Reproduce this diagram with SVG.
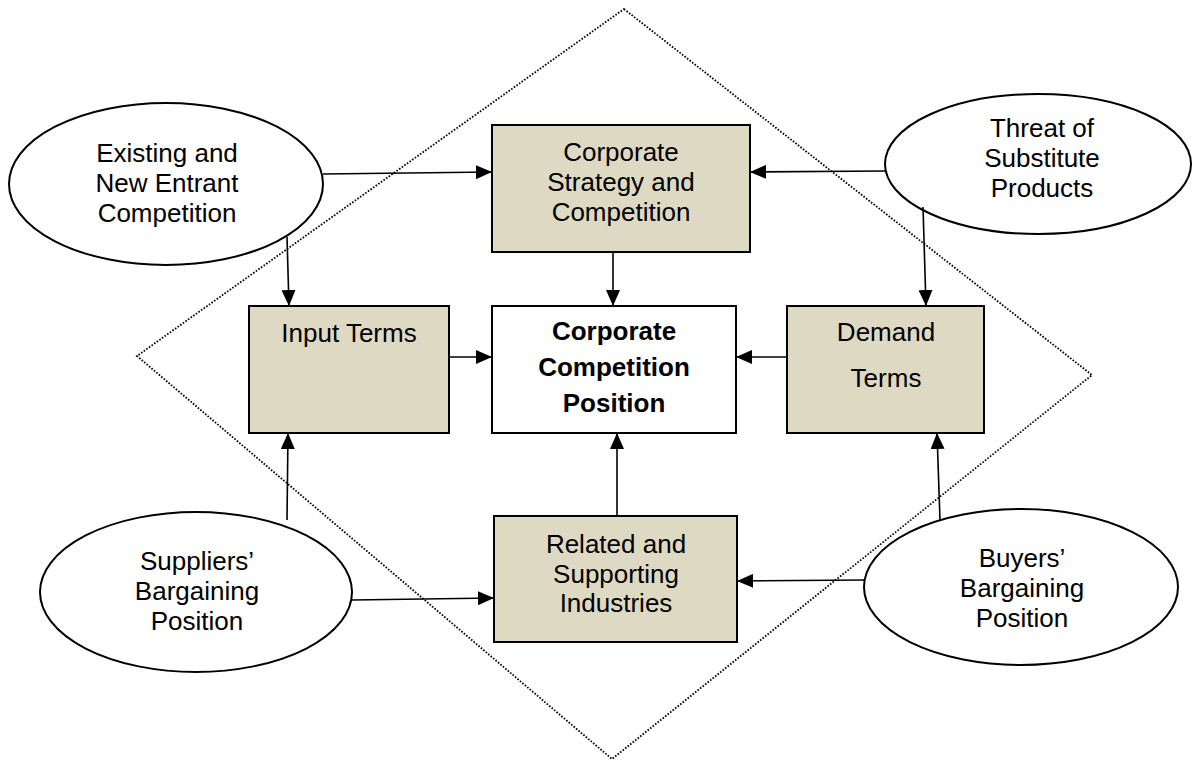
<svg xmlns="http://www.w3.org/2000/svg" width="1192" height="760" viewBox="0 0 1192 760">
  <defs>
    <marker id="arrow" markerUnits="userSpaceOnUse" markerWidth="16" markerHeight="14" refX="16" refY="7" orient="auto">
      <path d="M0,0 L16,7 L0,14 Z" fill="#000"/>
    </marker>
    <style>
      .frame { fill: none; stroke: #000; stroke-width: 1.8; stroke-dasharray: 1.6 1.6; }
      .oval { fill: #fff; stroke: #000; stroke-width: 2; }
      .box { fill: #DDD9C3; stroke: #000; stroke-width: 2; }
      .core { fill: #fff; stroke: #000; stroke-width: 2; }
      .link { fill: none; stroke: #000; stroke-width: 1.6; marker-end: url(#arrow); }
      text { font-family: "Liberation Sans", Arial, sans-serif; font-size: 26px; fill: #000; text-anchor: middle; }
      .bold { font-weight: bold; }
    </style>
  </defs>
  <rect width="1192" height="760" fill="#fff"/>

  <!-- dotted diamond enclosing the core factors -->
  <polygon class="frame" points="624,9 1092,375 612,759 137,356"/>

  <!-- outer forces -->
  <g id="existing-competition">
    <ellipse class="oval" cx="166" cy="184" rx="157" ry="81"/>
    <text x="167" y="162">Existing and</text>
    <text x="167" y="192">New Entrant</text>
    <text x="167" y="222">Competition</text>
  </g>
  <g id="substitutes">
    <ellipse class="oval" cx="1038" cy="164" rx="153" ry="70"/>
    <text x="1042" y="137">Threat of</text>
    <text x="1042" y="167">Substitute</text>
    <text x="1042" y="197">Products</text>
  </g>
  <g id="suppliers">
    <ellipse class="oval" cx="196" cy="592" rx="156" ry="80"/>
    <text x="197" y="570">Suppliers’</text>
    <text x="197" y="600">Bargaining</text>
    <text x="197" y="630">Position</text>
  </g>
  <g id="buyers">
    <ellipse class="oval" cx="1021" cy="587" rx="157" ry="78"/>
    <text x="1022" y="567">Buyers’</text>
    <text x="1022" y="597">Bargaining</text>
    <text x="1022" y="627">Position</text>
  </g>

  <!-- inner factors -->
  <g id="strategy">
    <rect class="box" x="492" y="125" width="258" height="127"/>
    <text x="621" y="161">Corporate</text>
    <text x="621" y="191">Strategy and</text>
    <text x="621" y="221">Competition</text>
  </g>
  <g id="input-terms">
    <rect class="box" x="249" y="306" width="200" height="127"/>
    <text x="349" y="342">Input Terms</text>
  </g>
  <g id="position">
    <rect class="core" x="492" y="306" width="244" height="127"/>
    <text class="bold" x="614" y="340">Corporate</text>
    <text class="bold" x="614" y="376">Competition</text>
    <text class="bold" x="614" y="412">Position</text>
  </g>
  <g id="demand-terms">
    <rect class="box" x="787" y="306" width="197" height="127"/>
    <text x="886" y="341">Demand</text>
    <text x="886" y="387">Terms</text>
  </g>
  <g id="related-industries">
    <rect class="box" x="494" y="516" width="243" height="126"/>
    <text x="616" y="553">Related and</text>
    <text x="616" y="583">Supporting</text>
    <text x="616" y="612">Industries</text>
  </g>

  <!-- connectors -->
  <g id="connectors">
    <line class="link" x1="323" y1="174" x2="492" y2="172"/>
    <line class="link" x1="885" y1="171" x2="750" y2="172"/>
    <line class="link" x1="287" y1="237" x2="289" y2="306"/>
    <line class="link" x1="923" y1="207" x2="926" y2="306"/>
    <line class="link" x1="613" y1="252" x2="613" y2="306"/>
    <line class="link" x1="449" y1="357" x2="492" y2="357"/>
    <line class="link" x1="787" y1="357" x2="736" y2="357"/>
    <line class="link" x1="617" y1="516" x2="617" y2="433"/>
    <line class="link" x1="287" y1="520" x2="288" y2="433"/>
    <line class="link" x1="940" y1="520" x2="937" y2="433"/>
    <line class="link" x1="352" y1="600" x2="494" y2="598"/>
    <line class="link" x1="865" y1="580" x2="737" y2="581"/>
  </g>
</svg>
